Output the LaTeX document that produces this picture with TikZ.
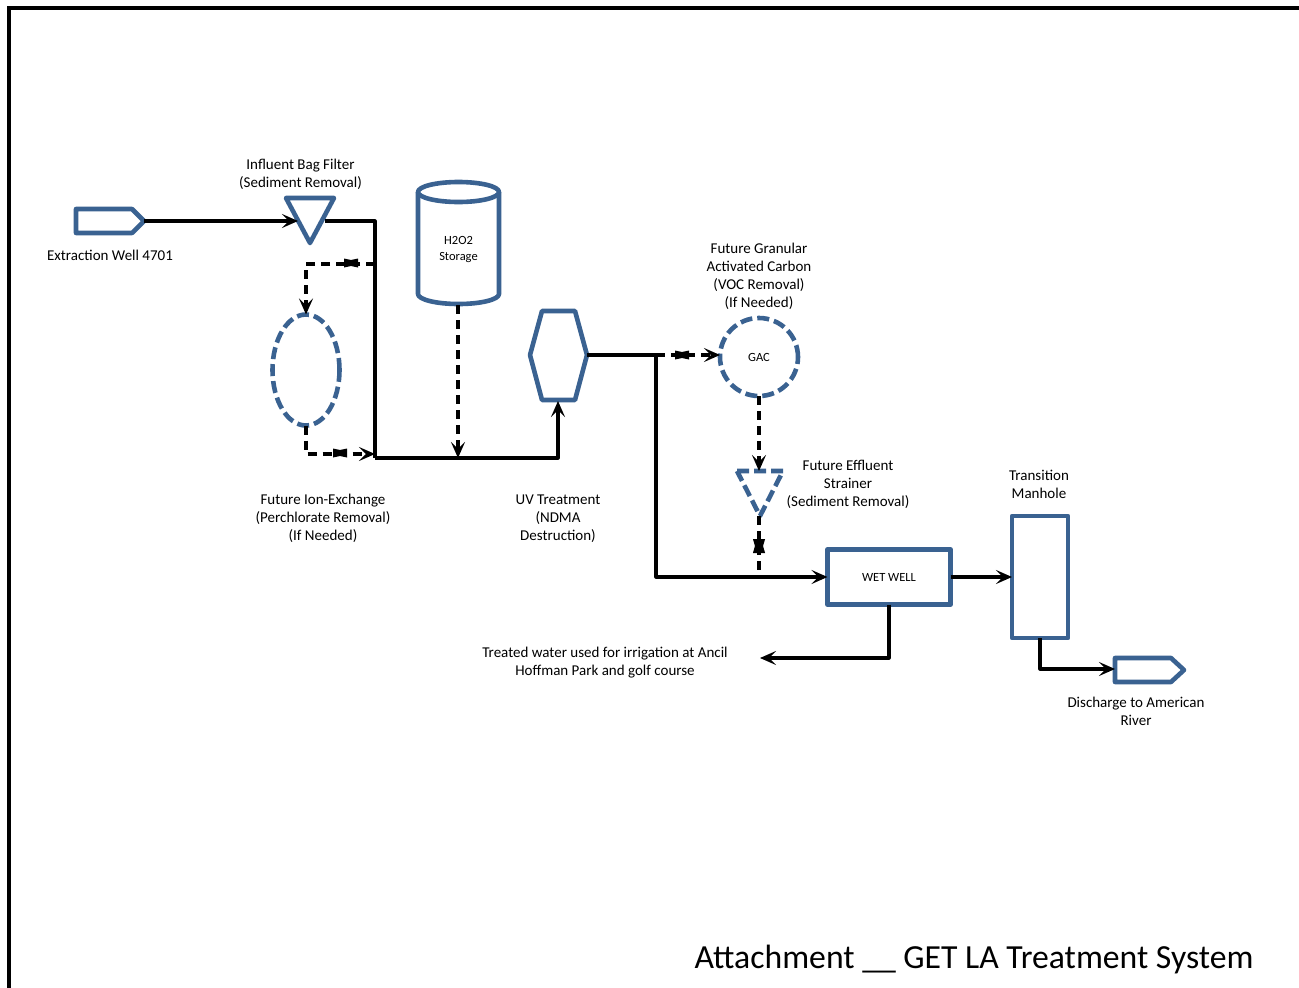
\documentclass[tikz,border=0pt]{standalone}
\usepackage{fontspec}
\setmainfont{Carlito}
\usetikzlibrary{arrows.meta,shapes.geometric,calc}
\definecolor{vesselblue}{HTML}{3A6291}
\tikzset{
	valve/.pic={\fill (-7,-4.5)--(0,-3)--(7,-4.5)--(7,4.5)--(0,3)--(-7,4.5)--cycle;},
	pipe/.style={line width=3.2pt,-{Stealth[length=16pt,width=14pt,inset=7pt]}},
	pipeplain/.style={line width=3.2pt},
	pipedash/.style={pipe,dash pattern=on 9pt off 6pt},
	pipedashplain/.style={line width=3.2pt,dash pattern=on 9pt off 6pt},
	vessel/.style={draw=vesselblue,line width=4.6pt,line join=round,fill=white},
	vesseldash/.style={vessel,dash pattern=on 12pt off 5pt},
	label/.style={font=\fontsize{15}{18}\selectfont,align=center,inner sep=0pt},
	tag/.style={font=\fontsize{12.5}{15.5}\selectfont,align=center,inner sep=0pt}
}
\begin{document}
\begin{tikzpicture}[x=1pt,y=-1pt]
	\useasboundingbox (0,0) rectangle (1299,988);
	\fill[white] (0,0) rectangle (1299,988);
	\draw[line width=4pt,miter limit=10] (9,988)--(9,8)--(1299,8);

	% pipes under the vessels
	\coordinate (FilterOut) at (325,221);
	\coordinate (CornerA) at (375,221);
	\coordinate (JoinA) at (375,264);
	\coordinate (JoinB) at (375,458);
	\coordinate (JoinC) at (458,458);
	\coordinate (JoinF) at (375,454);
	\coordinate (CornerB) at (558,458);
	\coordinate (WellTip) at (144,221);
	\coordinate (FilterIn) at (298,221);
	\coordinate (HexOut) at (587,355);
	\coordinate (JoinD) at (656,355);
	\coordinate (JoinE) at (656,577);
	\coordinate (TankOut) at (458,305);
	\coordinate (HexIn) at (558,401);
	\coordinate (IrrigEnd) at (760,658);
	\coordinate (StrainTop) at (759,471);
	\coordinate (StrainTip) at (759,516);
	\coordinate (RiverIn) at (1115,669);

	% vessels
	\draw[vessel] (76,209)--(132,209)--(144,221)--(132,233)--(76,233)--cycle;
	\draw[vessel] (286,198)--(334,198)--(310,243)--cycle;
	\draw[vessel] (418,192)--(418,294) arc[start angle=180,end angle=0,x radius=40.5,y radius=10]--(499,192);
	\draw[vessel] (458.5,192) ellipse[x radius=40.5,y radius=10];
	\draw[vessel] (542,311)--(575,311)--(587,355)--(575,400)--(542,400)--(530,355)--cycle;
	\draw[vesseldash] (737,471)--(783,471)--(760,516)--cycle;
	\draw[vessel] (1115,658)--(1171,658)--(1184,670)--(1171,682)--(1115,682)--cycle;
	\node[vesseldash,ellipse,minimum width=67pt,minimum height=111pt,inner sep=0pt,outer sep=0pt] (ion) at (306,370) {};
	\node[vesseldash,circle,minimum size=78pt,inner sep=0pt,outer sep=0pt,tag] (gac) at (759,357) {GAC};
	\node[vessel,rectangle,minimum width=123pt,minimum height=55pt,inner sep=0pt,outer sep=0pt,tag] (wetwell) at (889,577) {WET WELL};
	\node[vessel,rectangle,minimum width=56pt,minimum height=122pt,inner sep=0pt,outer sep=0pt] (manhole) at (1040,577) {};

	\draw[pipe] (WellTip)--(FilterIn);
	\draw[pipeplain,line join=round] (FilterOut)--(CornerA)--(JoinB);
	\draw[pipe,line join=round] (JoinB)--(CornerB)--(HexIn);
	\draw[pipedash] (JoinA)-|(ion.north);
	\draw[pipedash] (ion.south)|-(JoinF);
	\draw[pipedash] (TankOut)--(JoinC);
	\draw[pipeplain] (HexOut)--(JoinD);
	\draw[pipe,line join=round] (JoinD)|-(wetwell.west);
	\draw[pipedash] (JoinD)--(gac.west|-JoinD);
	\draw[pipedash] (gac.south)--(StrainTop);
	\draw[pipedashplain] (StrainTip)--(StrainTip|-JoinE);
	\draw[pipe,line join=round] (wetwell.south)|-(IrrigEnd);
	\draw[pipe] (wetwell.east)--(manhole.west);
	\draw[pipe,line join=round] (manhole.south)|-(RiverIn);

	\pic at (351,263) {valve};
	\pic at (340,453) {valve};
	\pic at (682,355) {valve};
	\pic[rotate=90,yscale=1.35] at (759,546) {valve};

	% labels
	\node[label] (welllabel) at (110,255.5) {Extraction Well 4701};
	\node[label] (filterlabel) at (300.5,174.5) {Influent Bag Filter\\(Sediment Removal)};
	\node[tag] (tanklabel) at (458.5,249.5) {H2O2\\Storage};
	\node[label] (ionlabel) at (323,518.5) {Future Ion-Exchange\\(Perchlorate Removal)\\(If Needed)};
	\node[label] (uvlabel) at (558,518.5) {UV Treatment\\(NDMA\\Destruction)};
	\node[label] (gaclabel) at (759,276) {Future Granular\\Activated Carbon\\(VOC Removal)\\(If Needed)};
	\node[label] (strainlabel) at (848,484.5) {Future Effluent\\Strainer\\(Sediment Removal)};
	\node[label] (manholelabel) at (1039,484) {Transition\\Manhole};
	\node[label] (irriglabel) at (605,662.5) {Treated water used for irrigation at Ancil\\Hoffman Park and golf course};
	\node[label] (riverlabel) at (1136,711.5) {Discharge to American\\River};
	\node[inner sep=0pt,font=\fontsize{33.7}{38}\selectfont] (title) at (974,959.5) {Attachment \_\_ GET LA Treatment System};
\end{tikzpicture}
\end{document}
